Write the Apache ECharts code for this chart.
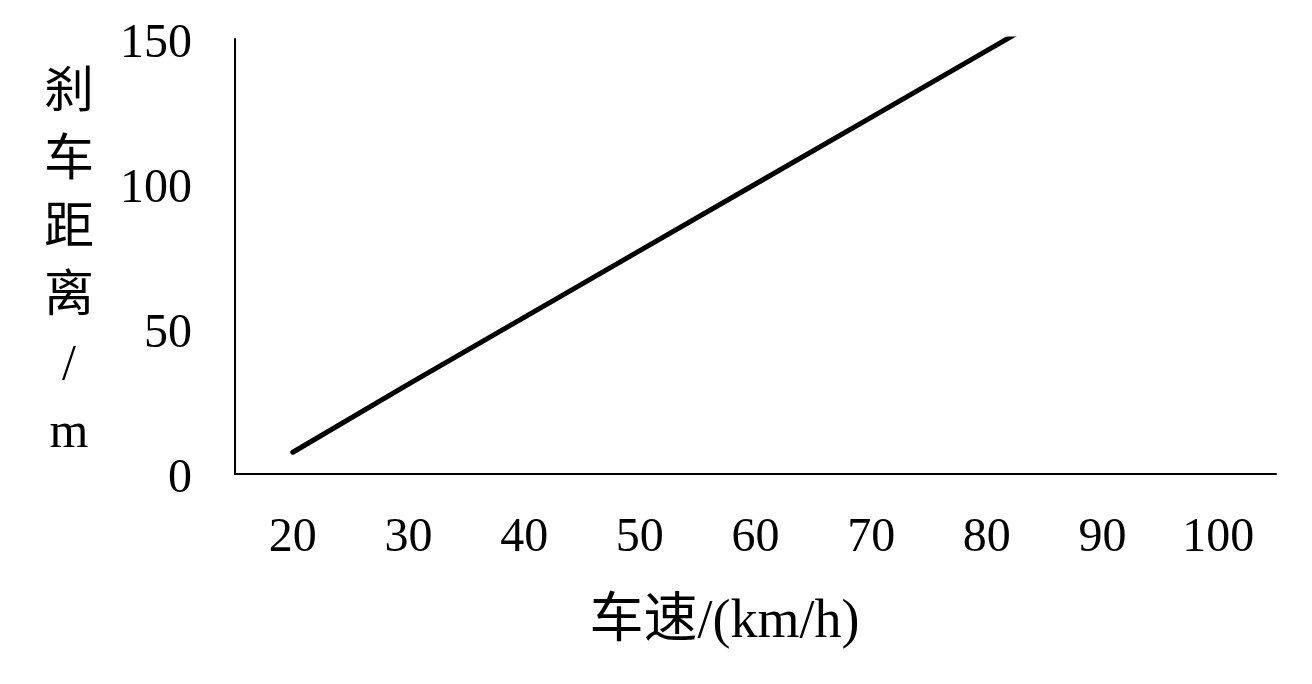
<!DOCTYPE html>
<html>
<head>
<meta charset="utf-8">
<script src="https://cdn.jsdelivr.net/npm/echarts@6/dist/echarts.min.js"></script>
<style>
html,body{margin:0;padding:0;background:#fff;}
#main{width:1312px;height:684px;}
</style>
</head>
<body>
<div id="main"></div>
<script>
const categories = ['20','30','40','50','60','70','80','90','100'];
const distance = [7.5, 31, 54, 77, 100, 123, 146, 169, 192];
const yTicks = {min: 0, max: 150, interval: 50};
const xName = '车速/(km/h)';
const yName = '刹车距离/m';

const FONT = '"Liberation Serif", "Noto Sans CJK SC", serif';
const chart = echarts.init(document.getElementById('main'), null, {renderer: 'canvas'});
chart.setOption({
  animation: false,
  backgroundColor: '#ffffff',
  grid: {left: 235, top: 39, right: 36, bottom: 210, containLabel: false},
  xAxis: {
    type: 'category',
    data: categories,
    boundaryGap: true,
    axisLine: {lineStyle: {color: '#000', width: 2}},
    axisTick: {show: false},
    axisLabel: {color: '#000', fontSize: 48, fontFamily: FONT, margin: 40},
    splitLine: {show: false},
    name: xName,
    nameLocation: 'middle',
    nameGap: 122,
    nameTextStyle: {color: '#000', fontSize: 54, fontFamily: FONT, padding: [0, 62, 0, 0]}
  },
  yAxis: {
    type: 'value',
    min: yTicks.min, max: yTicks.max, interval: yTicks.interval,
    axisLine: {show: true, lineStyle: {color: '#000', width: 2}},
    axisTick: {show: false},
    axisLabel: {color: '#000', fontSize: 48, fontFamily: FONT, margin: 43, verticalAlign: 'top', lineHeight: 10},
    splitLine: {show: false},
    name: '{s| }\n' + yName.split('').map(c => '{n|' + c + '}').join('\n'),
    nameLocation: 'middle',
    nameRotate: 0,
    nameGap: 166,
    nameTextStyle: {
      color: '#000', fontSize: 50, fontFamily: FONT, lineHeight: 68, align: 'center', verticalAlign: 'middle',
      rich: {
        s: {fontSize: 4, lineHeight: 14},
        n: {color: '#000', fontSize: 50, fontFamily: FONT, lineHeight: 68}
      }
    }
  },
  series: [{
    type: 'line',
    data: distance,
    symbol: 'none',
    clip: true,
    lineStyle: {color: '#000', width: 5, cap: 'round'}
  }]
});
</script>
</body>
</html>
